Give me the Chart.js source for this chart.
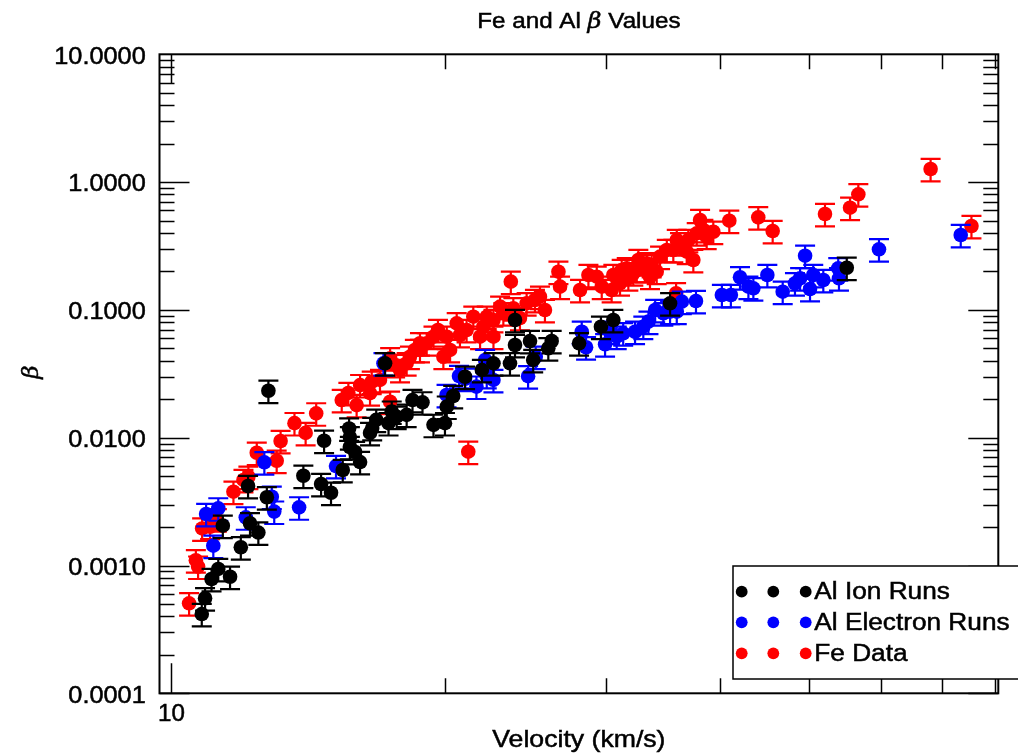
<!DOCTYPE html>
<html>
<head>
<meta charset="utf-8">
<title>Fe and Al beta Values</title>
<script src="https://cdn.jsdelivr.net/npm/chart.js@4.4.1/dist/chart.umd.min.js"></script>
<style>
    html, body { margin: 0; padding: 0; background: #fff; }
    #betaChart { display: block; }
</style>
</head>
<body>
<canvas id="betaChart" width="1018" height="754"></canvas>
<script>
// Values (velocity in km/s, beta)
const alIonVelocity = [10.82, 10.91, 11.09, 11.28, 11.62, 11.41, 11.94, 12.48, 12.22, 12.16, 12.75, 12.80, 13.98, 14.62, 14.99, 14.73, 15.44, 15.69, 15.72, 15.72, 15.93, 16.13, 16.54, 16.63, 16.80, 17.18, 17.33, 17.47, 17.69, 18.14, 18.41, 18.88, 19.41, 19.98, 20.07, 20.40, 21.02, 21.93, 22.58, 23.54, 23.84, 23.84, 24.76, 24.96, 25.93, 26.15, 28.02, 29.61, 30.55, 35.25, 55.04];
const alIonBeta = [0.000417, 0.000554, 0.000784, 0.00094, 0.000817, 0.00205, 0.00139, 0.00181, 0.00214, 0.00419, 0.00342, 0.0233, 0.00504, 0.00434, 0.00371, 0.00947, 0.00559, 0.0118, 0.0101, 0.00846, 0.00773, 0.00645, 0.0109, 0.0119, 0.0138, 0.0382, 0.0130, 0.0160, 0.0146, 0.0151, 0.0197, 0.0189, 0.0126, 0.0130, 0.0175, 0.0212, 0.0300, 0.0339, 0.0382, 0.0382, 0.0531, 0.0834, 0.0571, 0.0406, 0.0501, 0.0571, 0.0548, 0.0739, 0.0834, 0.1126, 0.2138];

const alElectronVelocity = [10.94, 11.28, 11.14, 12.09, 12.67, 12.91, 12.99, 13.83, 15.18, 17.11, 20.06, 20.70, 21.02, 21.63, 22.11, 22.20, 22.58, 24.64, 25.12, 28.21, 28.52, 29.92, 30.30, 30.81, 31.32, 32.27, 32.95, 33.38, 33.95, 34.66, 35.25, 35.85, 36.31, 37.63, 40.17, 41.09, 42.05, 42.95, 43.49, 45.05, 46.83, 48.30, 48.93, 49.55, 50.17, 50.58, 51.88, 53.87, 53.97, 59.70, 73.37];
const alElectronBeta = [0.00253, 0.0028, 0.00143, 0.00238, 0.00642, 0.00345, 0.00264, 0.00285, 0.0060, 0.0382, 0.0216, 0.0304, 0.0289, 0.0251, 0.0406, 0.0304, 0.0283, 0.0303, 0.043, 0.0675, 0.051, 0.0538, 0.0675, 0.0617, 0.0656, 0.0675, 0.0739, 0.0809, 0.0998, 0.0941, 0.0968, 0.0968, 0.116, 0.1174, 0.1308, 0.1308, 0.18, 0.152, 0.1476, 0.1875, 0.1388, 0.1615, 0.1767, 0.2655, 0.1457, 0.1875, 0.1714, 0.2116, 0.1767, 0.298, 0.3855];

const feVelocity = [10.48, 10.66, 10.72, 10.83, 11.05, 11.24, 11.72, 12.02, 12.17, 12.43, 13.07, 13.20, 13.67, 14.06, 14.44, 15.40, 15.66, 15.99, 16.13, 16.54, 16.61, 16.96, 17.40, 17.40, 17.62, 17.84, 18.14, 18.29, 18.52, 18.76, 18.76, 19.08, 19.41, 19.63, 19.90, 20.07, 20.24, 20.58, 20.75, 21.10, 21.19, 21.46, 21.83, 22.01, 22.20, 22.58, 22.58, 22.96, 23.15, 23.59, 23.74, 24.14, 24.55, 25.07, 25.39, 25.71, 26.60, 26.71, 28.09, 28.69, 29.30, 29.67, 30.55, 30.42, 31.07, 31.20, 31.60, 31.73, 32.13, 32.41, 32.54, 33.10, 33.24, 33.51, 33.65, 34.08, 34.37, 34.96, 35.54, 35.79, 35.85, 36.14, 36.76, 36.91, 37.38, 37.70, 38.02, 38.34, 38.66, 39.31, 40.93, 44.03, 45.66, 52.10, 55.50, 56.67, 68.00, 75.38];
const feBeta = [0.000506, 0.0011, 0.00098, 0.00195, 0.00201, 0.0023, 0.00378, 0.00467, 0.00495, 0.00763, 0.0066, 0.00942, 0.0130, 0.0109, 0.0155, 0.0197, 0.0224, 0.0180, 0.0258, 0.0223, 0.0274, 0.0283, 0.0418, 0.0191, 0.0371, 0.0339, 0.0382, 0.0430, 0.0486, 0.0548, 0.0486, 0.0548, 0.0617, 0.0696, 0.0430, 0.0617, 0.0486, 0.0785, 0.0636, 0.0696, 0.00777, 0.0885, 0.0617, 0.0739, 0.0885, 0.0834, 0.0617, 0.106, 0.0941, 0.1663, 0.103, 0.0864, 0.1126, 0.1195, 0.1269, 0.0998, 0.199, 0.152, 0.1431, 0.1875, 0.1819, 0.152, 0.1875, 0.1431, 0.1615, 0.2052, 0.2116, 0.1767, 0.1933, 0.2052, 0.2457, 0.2052, 0.2315, 0.1819, 0.2245, 0.199, 0.2609, 0.2942, 0.2942, 0.1349, 0.3524, 0.332, 0.2853, 0.3524, 0.2457, 0.3976, 0.505, 0.422, 0.374, 0.409, 0.499, 0.53, 0.4144, 0.5625, 0.6305, 0.8027, 1.266, 0.4535];

// error bars are +/- 20 % of each value
const relativeError = 0.2;

const seriesNames = ["Al Ion Runs", "Al Electron Runs", "Fe Data"];
const seriesColors = ["#000000", "#0000ff", "#ff0000"];

const yTickValues = [0.0001, 0.001, 0.01, 0.1, 1, 10];
const yTickLabels = ["0.0001", "0.0010", "0.0100", "0.1000", "1.0000", "10.0000"];
const xTickValues = [10];
const xTickLabels = ["10"];

const FONT = "'Liberation Sans', Arial, Helvetica, sans-serif";

function toPoints(xs, ys) {
    return xs.map((x, i) => ({ x: x, y: ys[i] }));
}

// text drawn a bit wider and heavier than Arial, like the original Helvetica
function drawText(ctx, parts, x, y, align, sx) {
    ctx.save();
    let total = 0;
    parts.forEach(p => {
        ctx.font = p.font;
        p.w = ctx.measureText(p.text).width * sx;
        total += p.w;
    });
    let cx = x;
    if (align === "center") cx = x - total / 2;
    if (align === "right") cx = x - total;
    ctx.fillStyle = "#000";
    ctx.strokeStyle = "#000";
    ctx.lineWidth = 0.5;
    ctx.textAlign = "left";
    ctx.textBaseline = "alphabetic";
    parts.forEach(p => {
        ctx.save();
        ctx.font = p.font;
        ctx.translate(cx, y);
        ctx.scale(sx, 1);
        ctx.fillText(p.text, 0, 0);
        ctx.strokeText(p.text, 0, 0);
        ctx.restore();
        cx += p.w;
    });
    ctx.restore();
}

const errorBars = {
    id: "errorBars",
    beforeDatasetDraw(chart, args) {
        const ds = chart.data.datasets[args.index];
        const xs = chart.scales.x;
        const ys = chart.scales.y;
        const ctx = chart.ctx;
        ctx.save();
        ctx.strokeStyle = ds.backgroundColor;
        ctx.lineWidth = 2.2;
        ds.data.forEach(p => {
            const px = xs.getPixelForValue(p.x);
            const top = ys.getPixelForValue(p.y * (1 + relativeError));
            const bot = ys.getPixelForValue(p.y * (1 - relativeError));
            ctx.beginPath();
            ctx.moveTo(px, top);
            ctx.lineTo(px, bot);
            ctx.moveTo(px - 10, top);
            ctx.lineTo(px + 10, top);
            ctx.moveTo(px - 10, bot);
            ctx.lineTo(px + 10, bot);
            ctx.stroke();
        });
        ctx.restore();
    }
};

const frameAndText = {
    id: "frameAndText",
    afterDraw(chart) {
        const ctx = chart.ctx;
        const a = chart.chartArea;
        const xs = chart.scales.x;
        const ys = chart.scales.y;

        ctx.save();
        ctx.strokeStyle = "#000";

        // inward tick marks on all four sides
        ctx.lineWidth = 1.5;
        ctx.beginPath();
        for (let e = -4; e <= 0; e++) {
            for (let k = 1; k <= 9; k++) {
                const v = k * Math.pow(10, e);
                const py = Math.round(ys.getPixelForValue(v)) + 0.5;
                const len = k === 1 ? 30 : 15;
                ctx.moveTo(a.left, py); ctx.lineTo(a.left + len, py);
                ctx.moveTo(a.right, py); ctx.lineTo(a.right - len, py);
            }
        }
        for (let k = 1; k <= 8; k++) {
            const v = k * 10;
            if (v < xs.min || v > xs.max) continue;
            const px = Math.round(xs.getPixelForValue(v)) + 0.5;
            const len = k === 1 ? 30 : 15;
            ctx.moveTo(px, a.bottom); ctx.lineTo(px, a.bottom - len);
            ctx.moveTo(px, a.top); ctx.lineTo(px, a.top + len);
        }
        ctx.stroke();

        // frame
        ctx.lineWidth = 2;
        ctx.strokeRect(a.left, a.top, a.right - a.left, a.bottom - a.top);

        // tick labels
        yTickValues.forEach((v, i) => {
            drawText(ctx, [{ text: yTickLabels[i], font: "23px " + FONT }],
                145.7, ys.getPixelForValue(v) + 9.3, "right", 1.1);
        });
        xTickValues.forEach((v, i) => {
            drawText(ctx, [{ text: xTickLabels[i], font: "23px " + FONT }],
                xs.getPixelForValue(v) + 1, 721, "center", 1.05);
        });

        // axis titles and chart title
        const midX = (a.left + a.right) / 2;
        drawText(ctx, [{ text: "Velocity (km/s)", font: "24px " + FONT }], midX, 746.7, "center", 1.11);
        drawText(ctx, [
            { text: "Fe and Al ", font: "22px " + FONT },
            { text: "\u03B2", font: "italic 22px 'DejaVu Serif', serif" },
            { text: " Values", font: "22px " + FONT }
        ], midX, 28, "center", 1.1);

        ctx.save();
        ctx.translate(38, 372);
        ctx.rotate(-Math.PI / 2);
        drawText(ctx, [{ text: "\u03B2", font: "italic 23px 'DejaVu Serif', serif" }], 0, 0, "center", 1);
        ctx.restore();

        // legend box
        ctx.fillStyle = "#fff";
        ctx.fillRect(733, 566, 300, 113);
        ctx.lineWidth = 1.5;
        ctx.strokeRect(733, 566, 300, 113);
        const dotX = [741.7, 773.3, 805.7];
        const rowY = [591.7, 622.3, 653.3];
        seriesNames.forEach((name, i) => {
            ctx.fillStyle = seriesColors[i];
            dotX.forEach(dx => {
                ctx.beginPath();
                ctx.arc(dx, rowY[i], 5.9, 0, Math.PI * 2);
                ctx.fill();
            });
            drawText(ctx, [{ text: name, font: "23px " + FONT }], 814.3, rowY[i] + 7.6, "left", 1.14);
        });
        ctx.restore();
    }
};

const canvas = document.getElementById("betaChart");
const sets = [
    toPoints(alIonVelocity, alIonBeta),
    toPoints(alElectronVelocity, alElectronBeta),
    toPoints(feVelocity, feBeta)
];

new Chart(canvas.getContext("2d"), {
    type: "scatter",
    data: {
        datasets: sets.map((pts, i) => ({
            label: seriesNames[i],
            data: pts,
            backgroundColor: seriesColors[i],
            borderColor: seriesColors[i],
            borderWidth: 0,
            pointRadius: 7.3,
            pointHoverRadius: 7.3
        }))
    },
    options: {
        responsive: false,
        animation: false,
        devicePixelRatio: 1,
        events: [],
        layout: { padding: { left: 0, right: 19.7, top: 54.3, bottom: 0 } },
        plugins: {
            legend: { display: false },
            title: { display: false },
            tooltip: { enabled: false }
        },
        scales: {
            x: {
                type: "logarithmic",
                bounds: "data",
                min: 9.726,
                max: 80.66,
                grid: { display: false, drawTicks: false },
                border: { display: false },
                ticks: { display: false },
                afterFit(scale) { scale.height = 60.7; }
            },
            y: {
                type: "logarithmic",
                bounds: "data",
                min: 0.0001,
                max: 10,
                grid: { display: false, drawTicks: false },
                border: { display: false },
                ticks: { display: false },
                afterFit(scale) { scale.width = 159.5; }
            }
        }
    },
    plugins: [errorBars, frameAndText]
});
</script>
</body>
</html>
